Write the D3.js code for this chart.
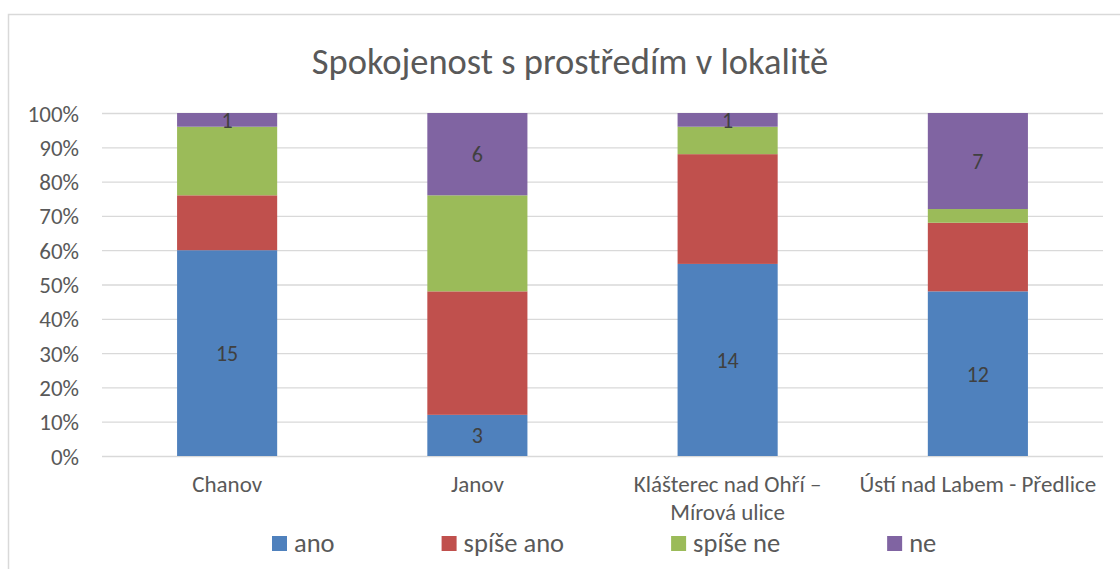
<!DOCTYPE html>
<html>
<head>
<meta charset="utf-8">
<script src="https://cdn.jsdelivr.net/npm/d3@7"></script>
<style>
  html, body { margin: 0; padding: 0; background: #fff; }
  svg { display: block; }
  text { font-family: Carlito, "Open Sans", sans-serif; }
</style>
</head>
<body>
<svg id="chart" width="1120" height="569"></svg>
<script>
const title = "Spokojenost s prostředím v lokalitě";
const categories = ["Chanov", "Janov", "Klášterec nad Ohří – Mírová ulice", "Ústí nad Labem - Předlice"];
const categoryLines = [["Chanov"], ["Janov"], ["Klášterec nad Ohří –", "Mírová ulice"], ["Ústí nad Labem - Předlice"]];
const seriesNames = ["ano", "spíše ano", "spíše ne", "ne"];
const ano = [15, 3, 14, 12];
const spiseAno = [4, 9, 8, 5];
const spiseNe = [5, 7, 2, 1];
const ne = [1, 6, 1, 7];
const labelledSeries = ["ano", "ne"];
const colors = ["#4f81bd", "#c0504d", "#9bbb59", "#8064a2"];
const yTicks = [0, 0.1, 0.2, 0.3, 0.4, 0.5, 0.6, 0.7, 0.8, 0.9, 1.0];

const seriesValues = [ano, spiseAno, spiseNe, ne];
const rows = categories.map((c, i) => {
  const r = { category: c };
  seriesNames.forEach((s, j) => r[s] = seriesValues[j][i]);
  return r;
});
const stacked = d3.stack().keys(seriesNames).offset(d3.stackOffsetExpand)(rows);

const svg = d3.select("#chart");
const textColor = "#595959";

// chart border
svg.append("rect")
  .attr("x", 8.5).attr("y", 14.5)
  .attr("width", 1200).attr("height", 700)
  .attr("fill", "none").attr("stroke", "#d9d9d9").attr("stroke-width", 1.5);

const x = d3.scaleBand().domain(categories).range([102, 1103]).paddingInner(0.6).paddingOuter(0.3);
const y = d3.scaleLinear().domain([0, 1]).range([456, 113]);

// title
svg.append("text")
  .attr("x", 570).attr("y", 74)
  .attr("text-anchor", "middle")
  .attr("fill", textColor)
  .style("font-size", "36.5px")
  .text(title);

// gridlines + y axis
const yAxis = d3.axisLeft(y).tickValues(yTicks).tickFormat(d3.format(".0%")).tickSize(-(1103 - 102)).tickPadding(23);
const gy = svg.append("g").attr("transform", "translate(102,0)").call(yAxis);
gy.select(".domain").remove();
gy.selectAll(".tick line").attr("stroke", "#d9d9d9").attr("stroke-width", 1.3);
gy.selectAll(".tick text").attr("fill", textColor).style("font-size", "23px").attr("dy", "0.35em");

// bars
const layers = svg.append("g").selectAll("g").data(stacked).join("g")
  .attr("fill", (d, i) => colors[i]);
layers.selectAll("rect").data(d => d.map(p => ({ p, key: d.key }))).join("rect")
  .attr("x", d => x(d.p.data.category))
  .attr("y", d => y(d.p[1]))
  .attr("width", x.bandwidth())
  .attr("height", d => y(d.p[0]) - y(d.p[1]));

// data labels
stacked.filter(s => labelledSeries.includes(s.key)).forEach(s => {
  svg.append("g").selectAll("text").data(s).join("text")
    .attr("x", d => x(d.data.category) + x.bandwidth() / 2)
    .attr("y", d => y((d[0] + d[1]) / 2))
    .attr("dy", "0.36em")
    .attr("text-anchor", "middle")
    .attr("fill", "#404040")
    .style("font-size", "22px")
    .text(d => d.data[s.key]);
});

// category labels (one text element per line)
const gx = svg.append("g");
categories.forEach((c, i) => {
  categoryLines[i].forEach((line, k) => {
    gx.append("text")
      .attr("x", x(c) + x.bandwidth() / 2)
      .attr("y", 492 + k * 28)
      .attr("text-anchor", "middle")
      .attr("fill", textColor)
      .style("font-size", "23px")
      .text(line);
  });
});

// legend
const legend = svg.append("g");
let lx = 272;
seriesNames.forEach((s, i) => {
  legend.append("rect")
    .attr("x", lx).attr("y", 536)
    .attr("width", 15).attr("height", 15)
    .attr("fill", colors[i]);
  const t = legend.append("text")
    .attr("x", lx + 22).attr("y", 552)
    .attr("fill", textColor)
    .style("font-size", "26.5px")
    .text(s);
  lx = lx + 22 + t.node().getComputedTextLength() + 107;
});
</script>
</body>
</html>
